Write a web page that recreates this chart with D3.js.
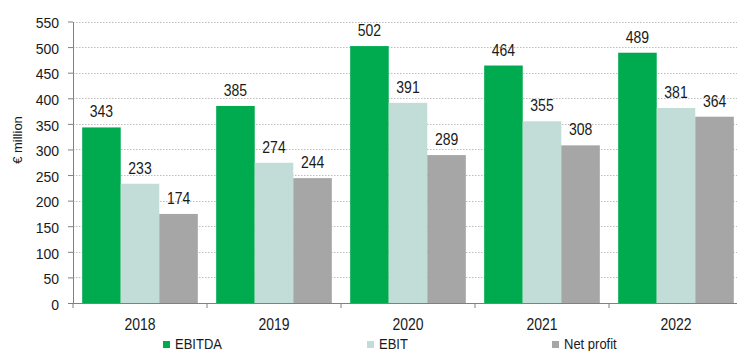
<!DOCTYPE html>
<html>
<head>
<meta charset="utf-8">
<script src="https://cdn.jsdelivr.net/npm/d3@7"></script>
<style>
  html, body { margin: 0; padding: 0; background: #fff; }
  svg { display: block; font-family: "Liberation Sans", Arial, sans-serif; }
</style>
</head>
<body>
<svg id="chart" width="737" height="351"></svg>
<script>
// Financial results by year (€ million)
const years = ["2018", "2019", "2020", "2021", "2022"];
const seriesNames = ["EBITDA", "EBIT", "Net profit"];
const ebitda = [343, 385, 502, 464, 489];
const ebit = [233, 274, 391, 355, 381];
const netProfit = [174, 244, 289, 308, 364];
const yTicks = [0, 50, 100, 150, 200, 250, 300, 350, 400, 450, 500, 550];
const colors = ["#00AA4E", "#C2DCD7", "#A6A6A6"];

const seriesValues = [ebitda, ebit, netProfit];

const svg = d3.select("#chart");
const plotLeft = 73, plotRight = 743, plotTop = 21.5, plotBottom = 303;
const stretch = 1.15; // labels are drawn slightly taller than wide

// place a text at (x, y) with a vertical stretch
const place = (sel, fx, fy) =>
  sel.attr("transform", (d, i) => `translate(${fx(d, i)},${fy(d, i)}) scale(1,${stretch})`);

const x = d3.scaleBand().domain(years).range([plotLeft, plotRight])
  .paddingInner(0.137).paddingOuter(0.0685);
const xInner = d3.scaleBand().domain(seriesNames).range([0, x.bandwidth()]);
const y = d3.scaleLinear().domain([0, 550]).range([plotBottom, plotTop]);

// dotted gridlines
svg.append("g")
  .selectAll("line")
  .data(yTicks.filter(d => d > 0))
  .join("line")
  .attr("x1", plotLeft).attr("x2", 737)
  .attr("y1", d => Math.round(y(d)) + 0.5).attr("y2", d => Math.round(y(d)) + 0.5)
  .attr("stroke", "#bdbdbd")
  .attr("stroke-dasharray", "1.5,1.5");

// bars
const groups = svg.append("g")
  .selectAll("g")
  .data(years)
  .join("g")
  .attr("transform", d => `translate(${x(d)},0)`);

groups.selectAll("rect")
  .data((d, i) => seriesNames.map((s, j) => ({ s, v: seriesValues[j][i], c: colors[j] })))
  .join("rect")
  .attr("x", d => xInner(d.s))
  .attr("width", xInner.bandwidth())
  .attr("y", d => y(d.v))
  .attr("height", d => y(0) - y(d.v))
  .attr("fill", d => d.c);

// value labels
groups.selectAll("text")
  .data((d, i) => seriesNames.map((s, j) => ({ s, v: seriesValues[j][i] })))
  .join("text")
  .call(place, d => xInner(d.s) + xInner.bandwidth() / 2, d => y(d.v) - 10)
  .attr("text-anchor", "middle")
  .attr("font-size", 14)
  .attr("fill", "#1a1a1a")
  .text(d => d.v);

// y axis
const yAxis = svg.append("g")
  .attr("transform", `translate(${plotLeft},0)`)
  .call(d3.axisLeft(y).tickValues(yTicks).tickSize(5).tickPadding(9).tickSizeOuter(0));
yAxis.select(".domain").attr("stroke", "#808080");
yAxis.selectAll(".tick line").attr("stroke", "#808080");
yAxis.selectAll("text")
  .attr("font-size", 14).attr("fill", "#1a1a1a")
  .attr("font-family", "Liberation Sans, Arial, sans-serif")
  .attr("dy", "0.45em");

// x axis with ticks at category boundaries
const xAxisG = svg.append("g").attr("transform", `translate(0,${plotBottom})`);
xAxisG.append("line")
  .attr("x1", plotLeft - 4).attr("x2", 737)
  .attr("y1", 0.5).attr("y2", 0.5)
  .attr("stroke", "#808080");
const step = x.step();
xAxisG.selectAll("line.tk")
  .data(d3.range(years.length + 1))
  .join("line")
  .attr("class", "tk")
  .attr("x1", i => plotLeft + i * step).attr("x2", i => plotLeft + i * step)
  .attr("y1", 0).attr("y2", 5)
  .attr("stroke", "#808080");
xAxisG.selectAll("text")
  .data(years)
  .join("text")
  .call(place, d => x(d) + x.bandwidth() / 2, () => 27)
  .attr("text-anchor", "middle")
  .attr("font-size", 14)
  .attr("fill", "#1a1a1a")
  .text(d => d);

// y axis title
svg.append("text")
  .attr("transform", "translate(22,140) rotate(-90)")
  .attr("text-anchor", "middle")
  .attr("font-size", 13)
  .attr("fill", "#1a1a1a")
  .text("€ million");

// legend
const legendX = [163, 367, 552];
const legend = svg.append("g")
  .selectAll("g")
  .data(seriesNames)
  .join("g")
  .attr("transform", (d, i) => `translate(${legendX[i]},341)`);
legend.append("rect")
  .attr("width", 7).attr("height", 7)
  .attr("fill", (d, i) => colors[i]);
legend.append("text")
  .call(place, () => 12, () => 7.5)
  .attr("font-size", 13)
  .attr("fill", "#1a1a1a")
  .text(d => d);
</script>
</body>
</html>
